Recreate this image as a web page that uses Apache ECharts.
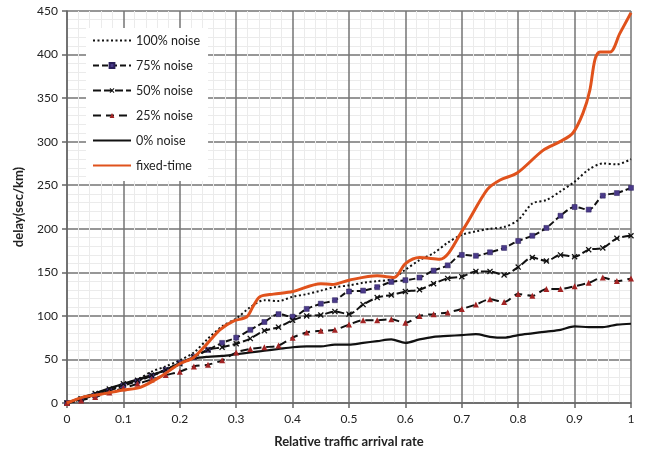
<!DOCTYPE html>
<html>
<head>
<meta charset="utf-8">
<script src="https://cdn.jsdelivr.net/npm/echarts@6/dist/echarts.min.js"></script>
<style>
html,body{margin:0;padding:0;background:#fff;}
#c{width:645px;height:454px;}
</style>
</head>
<body>
<div id="c"></div>
<script>
// shared x grid for the noise series
const xs = [0,0.025,0.05,0.075,0.1,0.125,0.15,0.175,0.2,0.225,0.25,0.275,0.3,0.325,0.35,0.375,0.4,0.425,0.45,0.475,0.5,0.525,0.55,0.575,0.6,0.625,0.65,0.675,0.7,0.725,0.75,0.775,0.8,0.825,0.85,0.875,0.9,0.925,0.95,0.975,1.0];
const noise100 = [0,5,10,15,21,27,36,42,49,58,74,88,97,110,118,117,122,125,129,133,135,138,140,142,153,164,172,184,193,197,200,202,210,229,233,243,254,268,275,274,280];
const noise75  = [0,4,9,14,20,25,31,38,46,53,61,69,75,84,93,102,99,108,114,118,128,129,133,139,141,144,152,158,170,169,173,178,186,192,201,215,225,222,238,241,247];
const noise50  = [0,5,11,16,22,26,32,38,45,53,61,64,68,74,83,87,95,100,101,105,102,113,121,124,128,130,137,143,145,151,151,147,156,167,163,170,168,176,178,189,192];
const noise25  = [0,3,7,12,17,22,27,32,36,42,44,49,58,62,64,66,75,81,83,84,90,95,95,96,92,100,102,104,108,113,119,116,125,123,131,131,134,138,144,140,143];
const noise0   = [0,6,11,17,22,27,32,38,46,51,53,54,56,58,60,62,64,65,65,67,67,69,71,73,69,73,76,77,78,79,76,75,78,80,82,84,88,87,87,90,91];
// fixed-time series (own x positions)
const fixedX = [0,0.03,0.06,0.1,0.13,0.165,0.2,0.224,0.247,0.271,0.295,0.319,0.33,0.342,0.366,0.4,0.45,0.47,0.5,0.55,0.58,0.6,0.625,0.661,0.702,0.745,0.768,0.798,0.844,0.874,0.897,0.915,0.927,0.936,0.945,0.963,0.98,1.0];
const fixedY = [0,7,10,15,18,30,45,52,67,84,94,99,111,122,125,128,137,136,141,146,144,160,167,165,199,245,256,264,290,300,310,333,359,394,403,403,424,448];
const seriesNames = ['100% noise','75% noise','50% noise','25% noise','0% noise','fixed-time'];

const pair = (x, y) => x.map((v, i) => [v, y[i]]);
const xMark = 'path://M0,1.5 L1.5,0 L5,3.5 L8.5,0 L10,1.5 L6.5,5 L10,8.5 L8.5,10 L5,6.5 L1.5,10 L0,8.5 L3.5,5 Z';
const hidden = {color: 'rgba(0,0,0,0)', borderWidth: 0, opacity: 0};

const chart = echarts.init(document.getElementById('c'), null, {renderer: 'canvas'});
const font = 'Lato, "Open Sans", sans-serif';
chart.setOption({
  animation: false,
  backgroundColor: '#fff',
  grid: {left: 67, right: 14, top: 11, bottom: 51, containLabel: false},
  legend: {
    orient: 'vertical', left: 86, top: 28,
    backgroundColor: '#fff',
    padding: [6, 8, 9, 6],
    itemGap: 12, itemWidth: 38, itemHeight: 6,
    textStyle: {fontFamily: font, fontSize: 12.5, color: '#222'},
    data: [
      {name: seriesNames[0], itemStyle: hidden},
      {name: seriesNames[1]},
      {name: seriesNames[2]},
      {name: seriesNames[3]},
      {name: seriesNames[4], itemStyle: hidden},
      {name: seriesNames[5], itemStyle: hidden}
    ]
  },
  xAxis: {
    type: 'value', min: 0, max: 1, interval: 0.1,
    name: 'Relative traffic arrival rate', nameLocation: 'middle', nameGap: 32,
    nameTextStyle: {fontFamily: font, fontWeight: 'bold', fontSize: 13, color: '#222'},
    axisLine: {show: true, lineStyle: {color: '#666', width: 1.5}},
    axisTick: {show: true, inside: false, length: 5, lineStyle: {color: '#666', width: 1.5}},
    axisLabel: {fontFamily: font, fontSize: 12, color: '#222', margin: 10},
    splitLine: {show: true, lineStyle: {color: '#757575', width: 1.5}},
    minorTick: {show: false, splitNumber: 5},
    minorSplitLine: {show: true, lineStyle: {color: '#ebebeb', width: 1}}
  },
  yAxis: {
    type: 'value', min: 0, max: 450, interval: 50,
    name: 'delay(sec/km)', nameLocation: 'middle', nameGap: 42,
    nameTextStyle: {fontFamily: font, fontWeight: 'bold', fontSize: 13, color: '#222'},
    axisLine: {show: true, lineStyle: {color: '#666', width: 1.5}},
    axisTick: {show: true, inside: false, length: 5, lineStyle: {color: '#666', width: 1.5}},
    axisLabel: {fontFamily: font, fontSize: 12, color: '#222', margin: 9},
    splitLine: {show: true, lineStyle: {color: '#757575', width: 1.5}},
    minorTick: {show: false, splitNumber: 5},
    minorSplitLine: {show: true, lineStyle: {color: '#ebebeb', width: 1}}
  },
  series: [
    {name: seriesNames[0], type: 'line', data: pair(xs, noise100), smooth: 0.3, symbol: 'none',
     lineStyle: {color: '#111', width: 2, type: [2, 2.5]}, itemStyle: {color: '#111'}, z: 3},
    {name: seriesNames[1], type: 'line', data: pair(xs, noise75), smooth: 0.3, symbol: 'rect', symbolSize: 5,
     lineStyle: {color: '#111', width: 2, type: [6, 3]}, itemStyle: {color: '#4a3a8a', borderColor: '#2a1f5a', borderWidth: 0.5}, z: 3},
    {name: seriesNames[2], type: 'line', data: pair(xs, noise50), smooth: 0.3, symbol: xMark, symbolSize: 6,
     lineStyle: {color: '#111', width: 2, type: [8, 3]}, itemStyle: {color: '#111'}, z: 3},
    {name: seriesNames[3], type: 'line', data: pair(xs, noise25), smooth: 0.3, symbol: 'triangle', symbolSize: 6,
     lineStyle: {color: '#111', width: 2, type: [8, 5]}, itemStyle: {color: '#a32424'}, z: 3},
    {name: seriesNames[4], type: 'line', data: pair(xs, noise0), smooth: 0.3, symbol: 'none',
     lineStyle: {color: '#111', width: 2.2}, itemStyle: {color: '#111'}, z: 3},
    {name: seriesNames[5], type: 'line', data: pair(fixedX, fixedY), smooth: 0.3, symbol: 'none',
     lineStyle: {color: '#e0521c', width: 3}, itemStyle: {color: '#e0521c'}, z: 4}
  ]
});
</script>
</body>
</html>
